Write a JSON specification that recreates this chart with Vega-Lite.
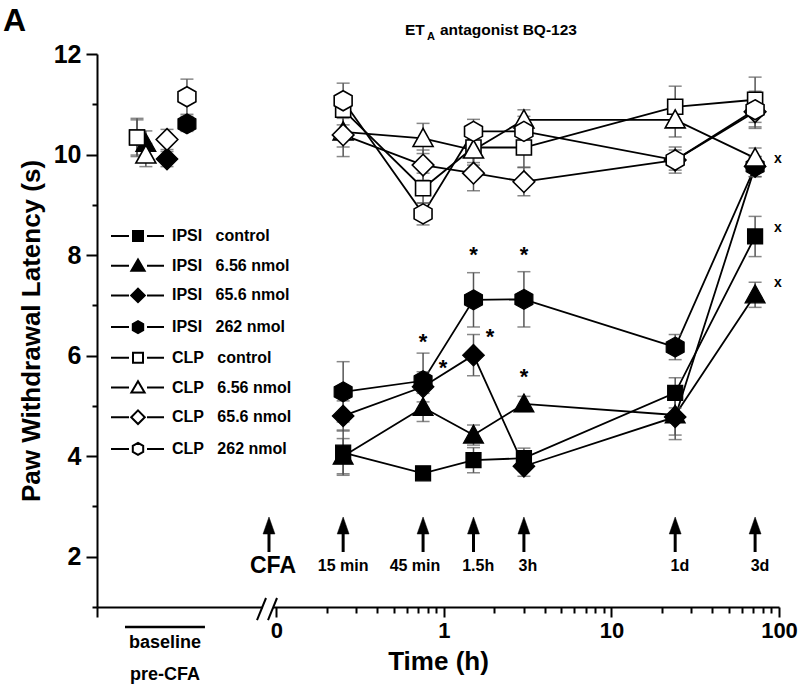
{
  "$schema": "https://vega.github.io/schema/vega-lite/v6.json",
  "width": 682,
  "height": 553,
  "autosize": {"type": "none"},
  "padding": {"left": 97, "top": 54, "right": 21, "bottom": 86},
  "background": "white",
  "config": {
    "view": {"stroke": null},
    "font": "Liberation Sans",
    "axis": {
      "grid": false,
      "domainColor": "black",
      "domainWidth": 2,
      "tickColor": "black",
      "tickWidth": 2,
      "labelColor": "black",
      "titleColor": "black",
      "labelFont": "Liberation Sans",
      "titleFont": "Liberation Sans",
      "labelFontWeight": "bold",
      "titleFontWeight": "bold",
      "labelOverlap": false,
      "labelFlush": false
    }
  },
  "datasets": {
    "pts": [
      {"series": "IPSI control", "t": 0.0147, "v": 10.34, "e": 0.35, "phase": "baseline"},
      {"series": "IPSI control", "t": 0.25, "v": 4.07, "e": 0.45, "phase": "post"},
      {"series": "IPSI control", "t": 0.75, "v": 3.66, "e": 0.12, "phase": "post"},
      {"series": "IPSI control", "t": 1.5, "v": 3.92, "e": 0.25, "phase": "post"},
      {"series": "IPSI control", "t": 3, "v": 3.96, "e": 0.2, "phase": "post"},
      {"series": "IPSI control", "t": 24, "v": 5.26, "e": 0.3, "phase": "post"},
      {"series": "IPSI control", "t": 72, "v": 8.37, "e": 0.4, "phase": "post"},
      {"series": "IPSI 6.56 nmol", "t": 0.0166, "v": 10.22, "e": 0.25, "phase": "baseline"},
      {"series": "IPSI 6.56 nmol", "t": 0.25, "v": 4.0, "e": 0.35, "phase": "post"},
      {"series": "IPSI 6.56 nmol", "t": 0.75, "v": 4.97, "e": 0.28, "phase": "post"},
      {"series": "IPSI 6.56 nmol", "t": 1.5, "v": 4.42, "e": 0.2, "phase": "post"},
      {"series": "IPSI 6.56 nmol", "t": 3, "v": 5.04, "e": 0.15, "phase": "post"},
      {"series": "IPSI 6.56 nmol", "t": 24, "v": 4.82, "e": 0.4, "phase": "post"},
      {"series": "IPSI 6.56 nmol", "t": 72, "v": 7.21, "e": 0.25, "phase": "post"},
      {"series": "IPSI 65.6 nmol", "t": 0.0222, "v": 9.91, "e": 0.15, "phase": "baseline"},
      {"series": "IPSI 65.6 nmol", "t": 0.25, "v": 4.8, "e": 0.3, "phase": "post"},
      {"series": "IPSI 65.6 nmol", "t": 0.75, "v": 5.38, "e": 0.3, "phase": "post"},
      {"series": "IPSI 65.6 nmol", "t": 1.5, "v": 6.01, "e": 0.41, "phase": "post"},
      {"series": "IPSI 65.6 nmol", "t": 3, "v": 3.8, "e": 0.2, "phase": "post"},
      {"series": "IPSI 65.6 nmol", "t": 24, "v": 4.78, "e": 0.45, "phase": "post"},
      {"series": "IPSI 65.6 nmol", "t": 72, "v": 9.76, "e": 0.2, "phase": "post"},
      {"series": "IPSI 262 nmol", "t": 0.0292, "v": 10.61, "e": 0.15, "phase": "baseline"},
      {"series": "IPSI 262 nmol", "t": 0.25, "v": 5.28, "e": 0.6, "phase": "post"},
      {"series": "IPSI 262 nmol", "t": 0.75, "v": 5.5, "e": 0.55, "phase": "post"},
      {"series": "IPSI 262 nmol", "t": 1.5, "v": 7.11, "e": 0.54, "phase": "post"},
      {"series": "IPSI 262 nmol", "t": 3, "v": 7.12, "e": 0.55, "phase": "post"},
      {"series": "IPSI 262 nmol", "t": 24, "v": 6.17, "e": 0.25, "phase": "post"},
      {"series": "IPSI 262 nmol", "t": 72, "v": 9.76, "e": 0.2, "phase": "post"},
      {"series": "CLP control", "t": 0.0147, "v": 10.34, "e": 0.38, "phase": "baseline"},
      {"series": "CLP control", "t": 0.25, "v": 10.89, "e": 0.3, "phase": "post"},
      {"series": "CLP control", "t": 0.75, "v": 9.33, "e": 0.3, "phase": "post"},
      {"series": "CLP control", "t": 1.5, "v": 10.14, "e": 0.3, "phase": "post"},
      {"series": "CLP control", "t": 3, "v": 10.14, "e": 0.39, "phase": "post"},
      {"series": "CLP control", "t": 24, "v": 10.95, "e": 0.41, "phase": "post"},
      {"series": "CLP control", "t": 72, "v": 11.09, "e": 0.45, "phase": "post"},
      {"series": "CLP 6.56 nmol", "t": 0.0166, "v": 9.99, "e": 0.23, "phase": "baseline"},
      {"series": "CLP 6.56 nmol", "t": 0.25, "v": 10.45, "e": 0.3, "phase": "post"},
      {"series": "CLP 6.56 nmol", "t": 0.75, "v": 10.32, "e": 0.3, "phase": "post"},
      {"series": "CLP 6.56 nmol", "t": 1.5, "v": 10.09, "e": 0.3, "phase": "post"},
      {"series": "CLP 6.56 nmol", "t": 3, "v": 10.69, "e": 0.2, "phase": "post"},
      {"series": "CLP 6.56 nmol", "t": 24, "v": 10.69, "e": 0.34, "phase": "post"},
      {"series": "CLP 6.56 nmol", "t": 72, "v": 9.93, "e": 0.2, "phase": "post"},
      {"series": "CLP 65.6 nmol", "t": 0.0222, "v": 10.3, "e": 0.2, "phase": "baseline"},
      {"series": "CLP 65.6 nmol", "t": 0.25, "v": 10.39, "e": 0.43, "phase": "post"},
      {"series": "CLP 65.6 nmol", "t": 0.75, "v": 9.79, "e": 0.3, "phase": "post"},
      {"series": "CLP 65.6 nmol", "t": 1.5, "v": 9.63, "e": 0.35, "phase": "post"},
      {"series": "CLP 65.6 nmol", "t": 3, "v": 9.46, "e": 0.28, "phase": "post"},
      {"series": "CLP 65.6 nmol", "t": 24, "v": 9.89, "e": 0.26, "phase": "post"},
      {"series": "CLP 65.6 nmol", "t": 72, "v": 10.85, "e": 0.3, "phase": "post"},
      {"series": "CLP 262 nmol", "t": 0.0292, "v": 11.15, "e": 0.35, "phase": "baseline"},
      {"series": "CLP 262 nmol", "t": 0.25, "v": 11.07, "e": 0.35, "phase": "post"},
      {"series": "CLP 262 nmol", "t": 0.75, "v": 8.82, "e": 0.22, "phase": "post"},
      {"series": "CLP 262 nmol", "t": 1.5, "v": 10.46, "e": 0.24, "phase": "post"},
      {"series": "CLP 262 nmol", "t": 3, "v": 10.46, "e": 0.3, "phase": "post"},
      {"series": "CLP 262 nmol", "t": 24, "v": 9.89, "e": 0.2, "phase": "post"},
      {"series": "CLP 262 nmol", "t": 72, "v": 10.89, "e": 0.37, "phase": "post"}
    ],
    "ann": [
      {"kind": "panel", "label": "A", "t": 0.00233, "v": 12.46},
      {"kind": "title", "label": "ET", "t": 0.585, "v": 12.37},
      {"kind": "titlesub", "label": "A", "t": 0.792, "v": 12.28},
      {"kind": "title", "label": "antagonist BQ-123", "t": 0.946, "v": 12.37},
      {"kind": "star", "label": "*", "t": 0.75, "v": 6.38},
      {"kind": "star", "label": "*", "t": 1.5, "v": 8.1},
      {"kind": "star", "label": "*", "t": 3, "v": 8.1},
      {"kind": "star", "label": "*", "t": 0.986, "v": 5.85},
      {"kind": "star", "label": "*", "t": 1.88, "v": 6.48},
      {"kind": "star", "label": "*", "t": 3, "v": 5.68},
      {"kind": "xmark", "label": "x", "t": 98.6, "v": 9.91},
      {"kind": "xmark", "label": "x", "t": 98.6, "v": 8.54},
      {"kind": "xmark", "label": "x", "t": 98.6, "v": 7.45},
      {"kind": "cfa", "label": "CFA", "t": 0.0953, "v": 1.816},
      {"kind": "tlabel", "label": "15 min", "t": 0.25, "v": 1.816},
      {"kind": "tlabel", "label": "45 min", "t": 0.671, "v": 1.816},
      {"kind": "tlabel", "label": "1.5h", "t": 1.6, "v": 1.816},
      {"kind": "tlabel", "label": "3h", "t": 3.17, "v": 1.816},
      {"kind": "tlabel", "label": "1d", "t": 25.6, "v": 1.816},
      {"kind": "tlabel", "label": "3d", "t": 77, "v": 1.816},
      {"kind": "base", "label": "baseline", "t": 0.0216, "v": 0.284},
      {"kind": "base", "label": "pre-CFA", "t": 0.0216, "v": -0.353}
    ],
    "segs": [
      {"kind": "arrow", "t": 0.0902, "t2": 0.0902, "v": 2.094, "v2": 2.621},
      {"kind": "arrow", "t": 0.25, "t2": 0.25, "v": 2.094, "v2": 2.621},
      {"kind": "arrow", "t": 0.75, "t2": 0.75, "v": 2.094, "v2": 2.621},
      {"kind": "arrow", "t": 1.5, "t2": 1.5, "v": 2.094, "v2": 2.621},
      {"kind": "arrow", "t": 3, "t2": 3, "v": 2.094, "v2": 2.621},
      {"kind": "arrow", "t": 24, "t2": 24, "v": 2.094, "v2": 2.621},
      {"kind": "arrow", "t": 72, "t2": 72, "v": 2.094, "v2": 2.621},
      {"kind": "basebar", "t": 0.01246, "t2": 0.0374, "v": 0.602, "v2": 0.602},
      {"kind": "gap", "t": 0.0831, "t2": 0.0953, "v": 1, "v2": 1},
      {"kind": "slash", "t": 0.07651, "t2": 0.08657, "v": 0.741, "v2": 1.179},
      {"kind": "slash", "t": 0.08898, "t2": 0.1007, "v": 0.741, "v2": 1.179}
    ]
  },
  "encoding": {
    "x": {
      "field": "t",
      "type": "quantitative",
      "scale": {"type": "log", "domain": [0.00848, 100], "nice": false},
      "axis": {
        "title": "Time (h)",
        "values": [0.00848, 0.1, 0.2, 0.3, 0.4, 0.5, 0.6, 0.7, 0.8, 0.9, 1, 2, 3, 4, 5, 6, 7, 8, 9, 10, 20, 30, 40, 50, 60, 70, 80, 90, 100],
        "labelExpr": "datum.value < 0.05 ? '' : abs(datum.value - 0.1) < 0.001 ? '0' : datum.value == 1 ? '1' : datum.value == 10 ? '10' : datum.value == 100 ? '100' : ''",
        "tickSize": {"condition": {"test": "datum.value < 0.05 || datum.value == 1 || datum.value == 10 || datum.value == 100 || abs(datum.value - 0.1) < 0.001", "value": 10}, "value": 6},
        "labelFontSize": 22,
        "labelPadding": 3,
        "titleFontSize": 26,
        "titlePadding": 7
      }
    },
    "y": {
      "field": "v",
      "type": "quantitative",
      "scale": {"domain": [1, 12], "nice": false, "zero": false},
      "axis": {
        "title": "Paw Withdrawal Latency (s)",
        "values": [1, 2, 3, 4, 5, 6, 7, 8, 9, 10, 11, 12],
        "labelExpr": "datum.value % 2 == 0 ? datum.label : ''",
        "tickSize": {"condition": {"test": "datum.value % 2 == 0", "value": 11}, "value": 5},
        "labelFontSize": 25,
        "labelPadding": 5,
        "titleFontSize": 26,
        "titlePadding": 9
      }
    }
  },
  "layer": [
    {
      "data": {"name": "pts"},
      "transform": [{"filter": "datum.phase == 'post'"}],
      "mark": {"type": "line", "color": "black", "strokeWidth": 1.8},
      "encoding": {"detail": {"field": "series"}, "order": {"field": "t", "type": "quantitative"}}
    },
    {
      "data": {"name": "pts"},
      "mark": {"type": "errorbar", "ticks": {"size": 13, "thickness": 1.5, "color": "#555555"}, "rule": {"strokeWidth": 1.5, "color": "#555555"}},
      "encoding": {"yError": {"field": "e"}}
    },
    {
      "data": {"name": "pts"},
      "transform": [{"filter": "datum.series == 'IPSI control'"}],
      "mark": {"type": "point", "shape": "M-0.94,-0.94H0.94V0.94H-0.94Z", "size": 256, "filled": true, "fill": "black", "stroke": "black", "strokeWidth": 1.2, "opacity": 1},
      "encoding": {}
    },
    {
      "data": {"name": "pts"},
      "transform": [{"filter": "datum.series == 'IPSI 6.56 nmol'"}],
      "mark": {"type": "point", "shape": "M0,-1.25L1.25,1H-1.25Z", "size": 256, "filled": true, "fill": "black", "stroke": "black", "strokeWidth": 1.2, "opacity": 1},
      "encoding": {}
    },
    {
      "data": {"name": "pts"},
      "transform": [{"filter": "datum.series == 'IPSI 65.6 nmol'"}],
      "mark": {"type": "point", "shape": "M0,-1.35L1.35,0L0,1.35L-1.35,0Z", "size": 256, "filled": true, "fill": "black", "stroke": "black", "strokeWidth": 1.2, "opacity": 1},
      "encoding": {}
    },
    {
      "data": {"name": "pts"},
      "transform": [{"filter": "datum.series == 'IPSI 262 nmol'"}],
      "mark": {"type": "point", "shape": "M0,-1.25L1.12,-0.62V0.62L0,1.25L-1.12,0.62V-0.62Z", "size": 256, "filled": true, "fill": "black", "stroke": "black", "strokeWidth": 1.2, "opacity": 1},
      "encoding": {}
    },
    {
      "data": {"name": "pts"},
      "transform": [{"filter": "datum.series == 'CLP control'"}],
      "mark": {"type": "point", "shape": "M-0.94,-0.94H0.94V0.94H-0.94Z", "size": 256, "filled": true, "fill": "white", "stroke": "black", "strokeWidth": 1.6, "opacity": 1},
      "encoding": {}
    },
    {
      "data": {"name": "pts"},
      "transform": [{"filter": "datum.series == 'CLP 6.56 nmol'"}],
      "mark": {"type": "point", "shape": "M0,-1.25L1.25,1H-1.25Z", "size": 256, "filled": true, "fill": "white", "stroke": "black", "strokeWidth": 1.6, "opacity": 1},
      "encoding": {}
    },
    {
      "data": {"name": "pts"},
      "transform": [{"filter": "datum.series == 'CLP 65.6 nmol'"}],
      "mark": {"type": "point", "shape": "M0,-1.35L1.35,0L0,1.35L-1.35,0Z", "size": 256, "filled": true, "fill": "white", "stroke": "black", "strokeWidth": 1.6, "opacity": 1},
      "encoding": {}
    },
    {
      "data": {"name": "pts"},
      "transform": [{"filter": "datum.series == 'CLP 262 nmol'"}],
      "mark": {"type": "point", "shape": "M0,-1.25L1.12,-0.62V0.62L0,1.25L-1.12,0.62V-0.62Z", "size": 256, "filled": true, "fill": "white", "stroke": "black", "strokeWidth": 1.6, "opacity": 1},
      "encoding": {}
    },
    {
      "data": {"name": "pts"},
      "mark": {"type": "point", "filled": true, "strokeWidth": 2, "opacity": 0, "size": 400},
      "encoding": {
        "shape": {
          "field": "series",
          "type": "nominal",
          "scale": {
            "domain": ["IPSI control", "IPSI 6.56 nmol", "IPSI 65.6 nmol", "IPSI 262 nmol", "CLP control", "CLP 6.56 nmol", "CLP 65.6 nmol", "CLP 262 nmol"],
            "range": [
              "M-2.7,0H-0.9M0.9,0H2.6M-0.5,-0.5H0.5V0.5H-0.5Z",
              "M-2.7,0H-0.9M0.9,0H2.6M0,-0.62L0.66,0.5H-0.66Z",
              "M-2.7,0H-0.9M0.9,0H2.6M0,-0.68L0.68,0L0,0.68L-0.68,0Z",
              "M-2.7,0H-0.9M0.9,0H2.6M0,-0.6L0.52,-0.3V0.3L0,0.6L-0.52,0.3V-0.3Z",
              "M-2.7,0H-0.9M0.9,0H2.6M-0.5,-0.5H0.5V0.5H-0.5Z",
              "M-2.7,0H-0.9M0.9,0H2.6M0,-0.62L0.66,0.5H-0.66Z",
              "M-2.7,0H-0.9M0.9,0H2.6M0,-0.68L0.68,0L0,0.68L-0.68,0Z",
              "M-2.7,0H-0.9M0.9,0H2.6M0,-0.6L0.52,-0.3V0.3L0,0.6L-0.52,0.3V-0.3Z"
            ]
          },
          "legend": {
            "title": null, "orient": "none", "legendX": 30, "legendY": 171,
            "symbolSize": 400, "symbolStrokeWidth": 2, "symbolOpacity": 1,
            "labelFont": "Liberation Sans", "labelFontWeight": "bold", "labelFontSize": 16, "labelColor": "black",
            "labelOffset": 23, "rowPadding": 9.7, "padding": 0, "labelLimit": 400,
            "labelExpr": "replace(datum.label, ' ', '\u00a0\u00a0\u00a0')"
          }
        },
        "fill": {
          "field": "series",
          "type": "nominal",
          "scale": {
            "domain": ["IPSI control", "IPSI 6.56 nmol", "IPSI 65.6 nmol", "IPSI 262 nmol", "CLP control", "CLP 6.56 nmol", "CLP 65.6 nmol", "CLP 262 nmol"],
            "range": ["black", "black", "black", "black", "white", "white", "white", "white"]
          },
          "legend": {
            "title": null, "orient": "none", "legendX": 30, "legendY": 171,
            "symbolSize": 400, "symbolStrokeWidth": 2, "symbolOpacity": 1,
            "labelFont": "Liberation Sans", "labelFontWeight": "bold", "labelFontSize": 16, "labelColor": "black",
            "labelOffset": 23, "rowPadding": 9.7, "padding": 0, "labelLimit": 400,
            "labelExpr": "replace(datum.label, ' ', '\u00a0\u00a0\u00a0')"
          }
        },
        "stroke": {
          "field": "series",
          "type": "nominal",
          "scale": {
            "domain": ["IPSI control", "IPSI 6.56 nmol", "IPSI 65.6 nmol", "IPSI 262 nmol", "CLP control", "CLP 6.56 nmol", "CLP 65.6 nmol", "CLP 262 nmol"],
            "range": ["black", "black", "black", "black", "black", "black", "black", "black"]
          },
          "legend": {
            "title": null, "orient": "none", "legendX": 30, "legendY": 171,
            "symbolSize": 400, "symbolStrokeWidth": 2, "symbolOpacity": 1,
            "labelFont": "Liberation Sans", "labelFontWeight": "bold", "labelFontSize": 16, "labelColor": "black",
            "labelOffset": 23, "rowPadding": 9.7, "padding": 0, "labelLimit": 400,
            "labelExpr": "replace(datum.label, ' ', '\u00a0\u00a0\u00a0')"
          }
        }
      }
    },
    {
      "data": {"name": "segs"},
      "transform": [{"filter": "datum.kind == 'gap'"}],
      "mark": {"type": "rule", "color": "white", "strokeWidth": 6},
      "encoding": {"x2": {"field": "t2"}, "y2": {"field": "v2"}}
    },
    {
      "data": {"name": "segs"},
      "transform": [{"filter": "datum.kind == 'slash'"}],
      "mark": {"type": "rule", "color": "black", "strokeWidth": 2},
      "encoding": {"x2": {"field": "t2"}, "y2": {"field": "v2"}}
    },
    {
      "data": {"name": "segs"},
      "transform": [{"filter": "datum.kind == 'basebar'"}],
      "mark": {"type": "rule", "color": "black", "strokeWidth": 2.5},
      "encoding": {"x2": {"field": "t2"}, "y2": {"field": "v2"}}
    },
    {
      "data": {"name": "segs"},
      "transform": [{"filter": "datum.kind == 'arrow'"}],
      "mark": {"type": "rule", "color": "black", "strokeWidth": 3},
      "encoding": {"x2": {"field": "t2"}, "y2": {"field": "v2"}}
    },
    {
      "data": {"name": "segs"},
      "transform": [{"filter": "datum.kind == 'arrow'"}],
      "mark": {"type": "point", "shape": "M0,-1L0.7,1H-0.7Z", "size": 289, "filled": true, "fill": "black", "stroke": "black", "strokeWidth": 0.5, "opacity": 1},
      "encoding": {"y": {"field": "v2", "type": "quantitative"}}
    },
    {
      "data": {"name": "ann"},
      "transform": [{"filter": "datum.kind == 'panel'"}],
      "mark": {"type": "text", "font": "Liberation Sans", "fontWeight": "bold", "fontSize": 32, "align": "left", "baseline": "alphabetic", "color": "black"},
      "encoding": {"text": {"field": "label"}}
    },
    {
      "data": {"name": "ann"},
      "transform": [{"filter": "datum.kind == 'title'"}],
      "mark": {"type": "text", "font": "Liberation Sans", "fontWeight": "bold", "fontSize": 15.5, "align": "left", "baseline": "alphabetic", "color": "black"},
      "encoding": {"text": {"field": "label"}}
    },
    {
      "data": {"name": "ann"},
      "transform": [{"filter": "datum.kind == 'titlesub'"}],
      "mark": {"type": "text", "font": "Liberation Sans", "fontWeight": "bold", "fontSize": 11, "align": "left", "baseline": "alphabetic", "color": "black"},
      "encoding": {"text": {"field": "label"}}
    },
    {
      "data": {"name": "ann"},
      "transform": [{"filter": "datum.kind == 'star'"}],
      "mark": {"type": "text", "font": "Liberation Sans", "fontWeight": "bold", "fontSize": 22, "align": "center", "baseline": "alphabetic", "dy": 12, "color": "black"},
      "encoding": {"text": {"field": "label"}}
    },
    {
      "data": {"name": "ann"},
      "transform": [{"filter": "datum.kind == 'xmark'"}],
      "mark": {"type": "text", "font": "Liberation Sans", "fontWeight": "bold", "fontSize": 14, "align": "center", "baseline": "alphabetic", "dy": 4, "color": "black"},
      "encoding": {"text": {"field": "label"}}
    },
    {
      "data": {"name": "ann"},
      "transform": [{"filter": "datum.kind == 'cfa'"}],
      "mark": {"type": "text", "font": "Liberation Sans", "fontWeight": "bold", "fontSize": 23, "align": "center", "baseline": "middle", "color": "black"},
      "encoding": {"text": {"field": "label"}}
    },
    {
      "data": {"name": "ann"},
      "transform": [{"filter": "datum.kind == 'tlabel'"}],
      "mark": {"type": "text", "font": "Liberation Sans", "fontWeight": "bold", "fontSize": 16, "align": "center", "baseline": "middle", "color": "black"},
      "encoding": {"text": {"field": "label"}}
    },
    {
      "data": {"name": "ann"},
      "transform": [{"filter": "datum.kind == 'base'"}],
      "mark": {"type": "text", "font": "Liberation Sans", "fontWeight": "bold", "fontSize": 18, "align": "center", "baseline": "middle", "color": "black"},
      "encoding": {"text": {"field": "label"}}
    }
  ]
}
